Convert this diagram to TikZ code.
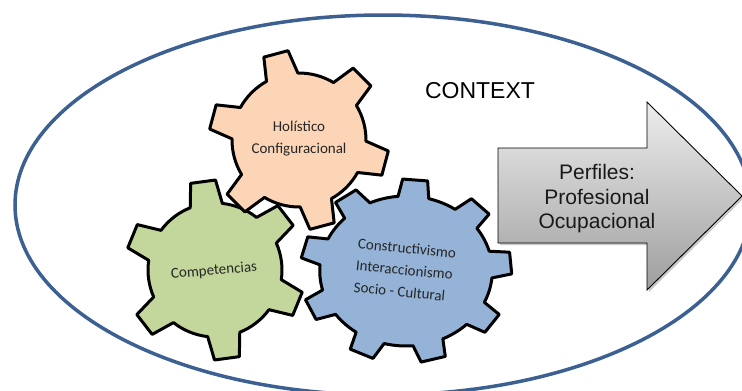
\documentclass[tikz,border=0pt]{standalone}
\usepackage{fontspec}
\setmainfont{Liberation Sans}
\newfontfamily\calibri{Carlito}
\usetikzlibrary{shadows}
\definecolor{ellblue}{RGB}{60,96,146}
\definecolor{gorange}{RGB}{251,213,181}
\definecolor{ggreen}{RGB}{195,214,155}
\definecolor{gblue}{RGB}{149,179,215}
\definecolor{gtxt}{RGB}{38,38,38}
\tikzset{
  gearline/.style={draw=black, line width=3pt, line join=round},
  gtext/.style={font=\calibri\fontsize{15}{22}\selectfont, text=gtxt, inner sep=0pt},
  ctxtext/.style={font=\fontsize{23}{27}\selectfont, text=black, inner sep=0pt},
  arrtext/.style={font=\fontsize{21}{24.5}\selectfont, text=black!90, align=center, inner sep=0pt},
  arrowshape/.style={draw=black, line width=0.9pt, line join=miter, top color=black!7, bottom color=black!38,
     drop shadow={shadow xshift=2pt, shadow yshift=-2pt, opacity=0.35, fill=black!60}},
  ellline/.style={draw=ellblue, line width=3.5pt}
}
\newcommand\mygear[7]{%
  \pgfmathsetmacro\gstep{360/#4}%
  \draw[gearline, fill=#1] ({#5-#7}:#2)
    \foreach \k in {1,...,#4} {
      -- ({#5+(\k-1)*\gstep-#6}:#3) -- ({#5+(\k-1)*\gstep+#6}:#3)
      -- ({#5+(\k-1)*\gstep+#7}:#2)
      arc[start angle={#5+(\k-1)*\gstep+#7}, end angle={#5+\k*\gstep-#7}, radius=#2]
    } -- cycle;
}
\begin{document}
\begin{tikzpicture}[x=1pt, y=-1pt]
\useasboundingbox (0,0) rectangle (742,391);
\fill[white] (0,0) rectangle (742,391);
\clip (0,0) rectangle (742,391);
% context ellipse
\draw[ellline] (383,205) ellipse[x radius=368, y radius=190];
% green gear
\begin{scope}[shift={(215,270)}, yscale=-1]
  \mygear{ggreen}{67}{90}{6}{97.7}{8}{14}
\end{scope}
% orange gear
\begin{scope}[shift={(299,140)}, yscale=-1]
  \mygear{gorange}{67}{90}{6}{105}{8}{14}
\end{scope}
% blue gear
\begin{scope}[shift={(406,271)}, yscale=-1, xscale=1.15]
  \mygear{gblue}{75}{92}{9}{85}{6.8}{10.3}
\end{scope}
% gear texts
\node[gtext, align=center] (hol) at (299,139) {Holístico\\Configuracional};
\node[gtext, rotate=5] (comp) at (214,271) {Competencias};
\node[gtext, align=left, rotate=-5.5] (cons) at (405,270) {Constructivismo\\Interaccionismo\\Socio - Cultural};
% context label
\node[ctxtext, anchor=base] (ctx) at (480,98) {CONTEXT};
% arrow
\draw[arrowshape] (498,148) -- (647,148) -- (647,102) -- (742,196) -- (647,290) -- (647,243) -- (498,243) -- cycle;
\node[arrtext] (perf) at (597,199) {Perfiles:\\Profesional\\Ocupacional};
\end{tikzpicture}
\end{document}
